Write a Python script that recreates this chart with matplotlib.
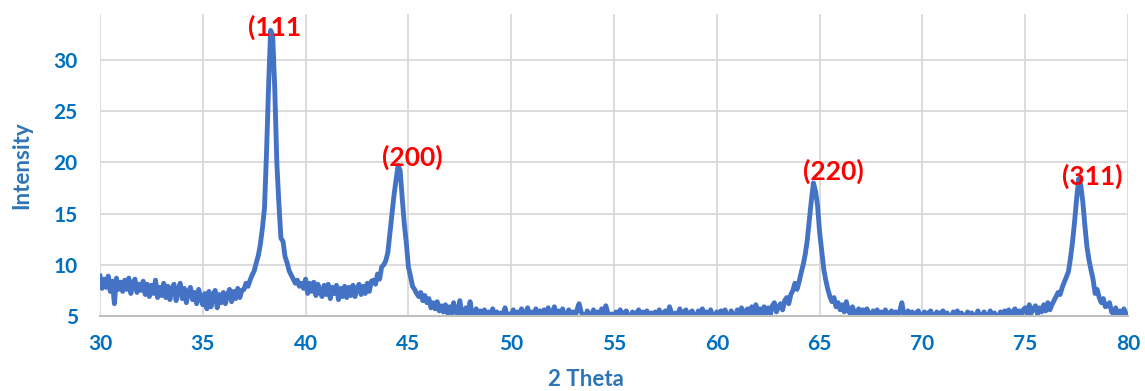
import numpy as np
import matplotlib
matplotlib.use('Agg')
import matplotlib.pyplot as plt

plt.rcParams['font.family'] = ['Lato', 'DejaVu Sans']

# --- XRD pattern, 2-theta from 30 to 80 deg in 0.1 deg steps ---
two_theta = np.round(np.arange(30.0, 80.05, 0.1), 1)
intensity = [
    8.9, 7.7, 8.6, 7.8, 8.9, 7.4, 8.4, 6.2, 8.7, 7.6,     # 30
    8.3, 7.4, 8.5, 7.6, 8.7, 7.2, 8.2, 8.6, 7.3, 8.1,     # 31
    7.5, 8.4, 7.1, 8.1, 6.9, 8.0, 7.2, 8.5, 6.8, 7.8,     # 32
    7.0, 8.2, 6.8, 7.9, 6.6, 7.7, 8.1, 6.5, 7.5, 8.2,     # 33
    6.7, 7.7, 6.3, 7.4, 7.8, 6.6, 7.3, 6.2, 7.6, 6.7,     # 34
    6.1, 7.2, 5.7, 7.4, 5.9, 7.0, 7.5, 5.8, 7.1, 6.3,     # 35
    7.3, 6.2, 7.1, 7.6, 6.4, 7.4, 6.7, 7.7, 6.8, 7.5,     # 36
    7.6, 8.2, 7.9, 8.5, 9.0, 9.4, 10.2, 10.9, 12.0, 13.6,  # 37
    15.5, 21.0, 27.5, 32.9, 32.4, 27.2, 20.0, 16.0, 12.6, 12.3,  # 38
    10.8, 10.2, 9.4, 9.0, 8.6, 8.2, 8.5, 7.9, 8.2, 7.7,   # 39
    8.6, 7.2, 8.2, 7.4, 8.3, 7.0, 8.1, 7.3, 6.9, 8.0,     # 40
    7.1, 8.1, 6.7, 7.8, 7.2, 8.0, 6.6, 7.7, 6.9, 7.9,     # 41
    6.8, 7.8, 7.0, 8.0, 6.9, 7.7, 8.1, 7.1, 7.9, 7.2,     # 42
    8.2, 7.4, 8.4, 8.5, 8.1, 9.1, 8.6, 9.8, 10.0, 10.4,   # 43
    11.2, 13.1, 15.0, 16.8, 18.3, 19.7, 19.2, 16.5, 14.0, 12.1,  # 44
    9.8, 8.9, 7.9, 7.6, 7.2, 6.9, 7.3, 6.5, 7.0, 6.3,     # 45
    6.7, 5.8, 6.3, 5.7, 6.4, 5.5, 6.0, 5.4, 6.1, 5.3,     # 46
    5.9, 5.2, 6.3, 5.4, 5.1, 6.5, 5.3, 5.0, 5.8, 5.2,     # 47
    6.4, 5.1, 5.0, 5.7, 5.0, 5.5, 4.9, 5.6, 5.0, 5.4,     # 48
    4.9, 5.7, 5.0, 5.4, 4.8, 5.3, 5.0, 5.8, 4.9, 5.2,     # 49
    5.0, 5.6, 4.8, 5.4, 5.0, 5.7, 4.9, 5.3, 5.8, 4.9,     # 50
    5.4, 4.8, 5.7, 5.0, 5.5, 4.7, 5.6, 5.0, 5.8, 4.9,     # 51
    5.3, 5.9, 4.8, 5.5, 4.9, 5.7, 5.0, 4.8, 5.6, 5.0,     # 52
    5.4, 4.9, 5.6, 6.2, 5.4, 5.0, 4.8, 5.5, 5.1, 4.9,     # 53
    5.6, 5.0, 5.4, 4.8, 5.7, 5.1, 6.0, 5.3, 4.9, 5.2,     # 54
    4.8, 5.4, 4.9, 5.6, 4.7, 5.3, 5.5, 4.8, 4.9, 5.4,     # 55
    4.7, 5.3, 5.6, 4.8, 5.4, 4.9, 5.5, 4.7, 5.3, 4.8,     # 56
    5.4, 4.9, 5.6, 4.8, 5.3, 5.5, 4.9, 5.9, 5.3, 4.8,     # 57
    5.3, 4.8, 5.7, 4.9, 5.4, 5.6, 4.8, 5.3, 5.5, 4.9,     # 58
    4.8, 5.5, 5.0, 5.7, 4.9, 5.4, 4.7, 5.6, 5.0, 4.9,     # 59
    5.4, 4.8, 5.5, 4.9, 5.6, 5.0, 4.8, 5.5, 5.0, 4.9,     # 60
    5.6, 5.0, 5.8, 4.9, 5.5, 5.7, 5.0, 5.9, 5.1, 6.1,     # 61
    5.2, 5.7, 5.0, 5.9, 5.3, 5.8, 5.1, 6.0, 6.3, 5.4,     # 62
    5.9, 6.2, 5.6, 6.5, 6.8, 6.2, 7.1, 7.5, 8.2, 7.6,     # 63
    8.3, 9.2, 10.0, 11.0, 12.4, 14.4, 16.3, 18.0, 17.2, 15.8,  # 64
    13.2, 11.4, 9.6, 8.5, 7.6, 6.9, 6.4, 6.8, 5.9, 6.3,   # 65
    5.6, 6.1, 5.4, 6.4, 5.5, 5.2, 5.9, 5.3, 5.1, 5.7,     # 66
    5.0, 5.6, 4.9, 5.7, 5.2, 4.9, 5.5, 5.0, 5.6, 4.8,     # 67
    5.4, 5.0, 5.6, 4.8, 5.3, 5.5, 4.9, 5.4, 5.0, 5.5,     # 68
    6.3, 5.1, 4.9, 5.5, 5.0, 5.4, 4.8, 5.3, 5.5, 4.9,     # 69
    5.0, 5.4, 4.8, 5.3, 5.5, 4.9, 5.0, 5.4, 4.8, 5.3,     # 70
    5.5, 4.9, 5.3, 5.0, 4.8, 5.4, 5.0, 5.5, 4.9, 5.3,     # 71
    4.8, 5.0, 5.4, 4.9, 5.3, 4.8, 5.0, 5.5, 4.9, 5.0,     # 72
    5.4, 4.9, 5.0, 5.5, 4.8, 5.3, 5.0, 4.9, 5.4, 5.0,     # 73
    5.5, 5.0, 5.6, 4.9, 5.4, 5.7, 5.0, 5.5, 5.1, 5.6,     # 74
    5.8, 5.2, 6.1, 5.3, 5.7, 6.0, 5.2, 5.8, 5.4, 6.1,     # 75
    5.5, 6.3, 5.6, 6.1, 6.5, 6.9, 7.3, 7.1, 7.8, 8.3,     # 76
    8.8, 9.3, 10.6, 12.2, 14.2, 16.4, 18.4, 17.8, 16.2, 13.9,  # 77
    11.8, 10.5, 9.5, 8.6, 7.2, 7.6, 6.8, 6.3, 6.7, 5.9,   # 78
    6.0, 6.3, 5.4, 5.2, 5.8, 5.0, 5.5, 4.9, 5.7, 5.2,     # 79
    5.1,                                                  # 80
]

# peak labels (Miller indices) and where they sit
peak_labels = ['(111', '(200)', '(220)', '(311)']
peak_x = [38.5, 45.2, 65.65, 78.25]
peak_y = [33.2, 20.5, 19.1, 18.6]

x_ticks = [30, 35, 40, 45, 50, 55, 60, 65, 70, 75, 80]
y_ticks = [5, 10, 15, 20, 25, 30]

tick_color = '#0070C0'
title_color = '#2E75B6'

fig = plt.figure(figsize=(11.45, 3.91), dpi=100)
ax = fig.add_axes([100 / 1145, 75 / 391, 1028 / 1145, 302 / 391])

ax.plot(two_theta, intensity, color='#4472C4', lw=3.5, solid_joinstyle='round')

for lab, px, py in zip(peak_labels, peak_x, peak_y):
    ax.text(px, py, lab, color='#FF0000', fontsize=19, fontweight='bold',
            ha='center', va='center')

ax.set_xlim(30, 80)
ax.set_ylim(5, 34.5)
ax.set_xticks(x_ticks)
ax.set_yticks(y_ticks)
ax.grid(True, color='#D9D9D9', lw=1.3)
ax.set_axisbelow(True)
for side in ['top', 'right', 'left']:
    ax.spines[side].set_visible(False)
ax.spines['bottom'].set_color('#BFBFBF')
ax.spines['bottom'].set_linewidth(1.5)
ax.tick_params(length=0, labelsize=15, labelcolor=tick_color)
ax.tick_params(axis='x', pad=13)
ax.tick_params(axis='y', pad=16)
for lbl in ax.get_xticklabels() + ax.get_yticklabels():
    lbl.set_fontweight('bold')

fig.text(586 / 1145, 1 - 379 / 391, '2 Theta', color=title_color, fontsize=16,
         fontweight='bold', ha='center', va='center')
fig.text(22 / 1145, 1 - 165 / 391, 'Intensity', color=title_color, fontsize=16,
         fontweight='bold', ha='center', va='center', rotation=90)

fig.savefig('out.png', dpi=100)
